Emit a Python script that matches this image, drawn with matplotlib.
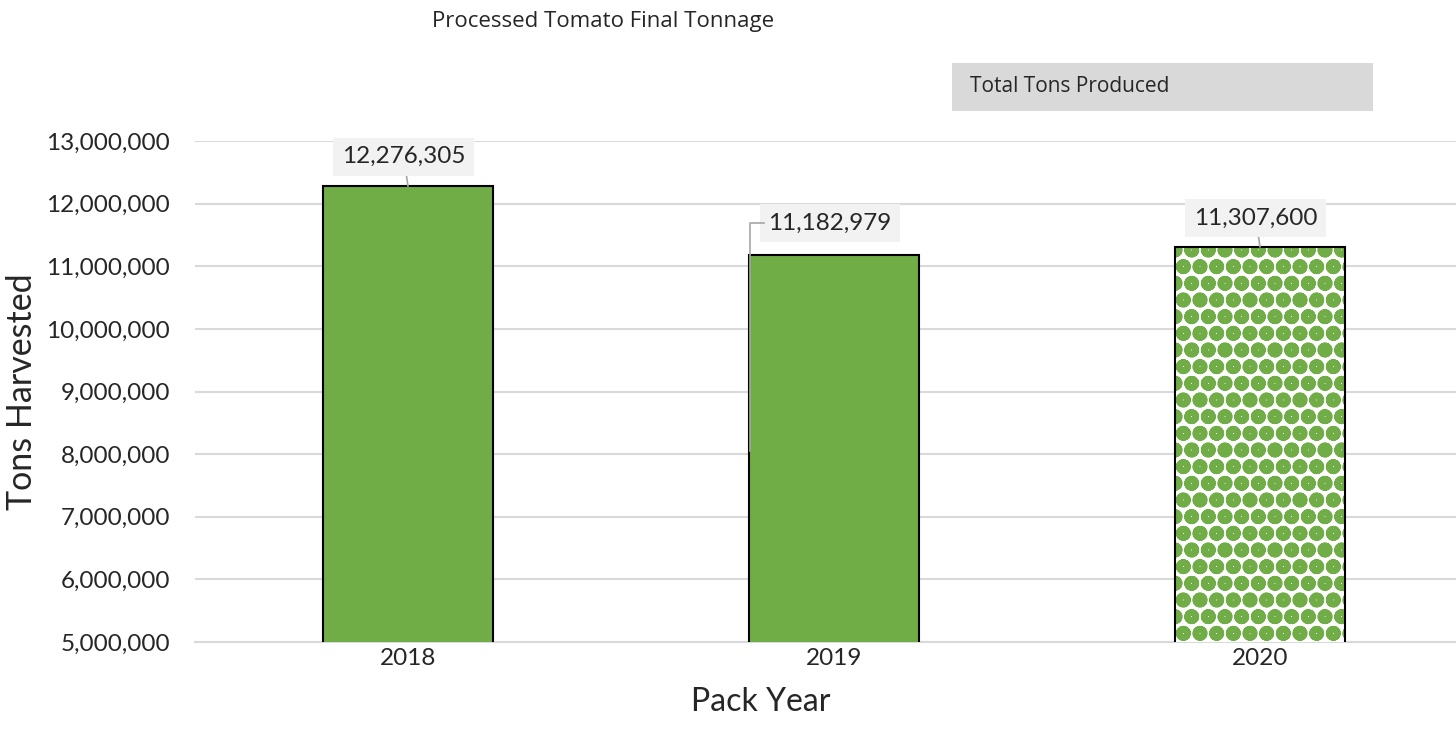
import numpy as np
import matplotlib.pyplot as plt
from matplotlib.ticker import FuncFormatter

plt.rcParams['font.family'] = ['Lato', 'DejaVu Sans']
plt.rcParams['hatch.linewidth'] = 6

years = ['2018', '2019', '2020']
tons = [12276305, 11182979, 11307600]
labels = ['12,276,305', '11,182,979', '11,307,600']

green = '#70AD47'
grid_c = '#D9D9D9'
txt_c = '#262626'

fig = plt.figure(figsize=(14.56, 7.44), dpi=100)
ax = fig.add_axes([195/1456, 1-642/744, 1-195/1456, (642-141)/744])

x = np.arange(len(years))
# solid bars for 2018/2019, patterned bar for 2020
ax.bar(x[:2], tons[:2], width=0.4, color=green, edgecolor='black',
       linewidth=1.5, zorder=3)
ax.bar(x[2], tons[2], width=0.4, color='white', edgecolor=green, hatch='o',
       linewidth=0, zorder=3)
ax.bar(x[2], tons[2], width=0.4, color='none', edgecolor='black',
       linewidth=1.5, zorder=4)

ax.set_ylim(5000000, 13000000)
ax.set_xlim(-0.5, 2.5 - 17/426)
ax.set_yticks(np.arange(5000000, 13000001, 1000000))
ax.yaxis.set_major_formatter(FuncFormatter(lambda v, p: f'{int(v):,}'))
ax.set_xticks(x)
ax.set_xticklabels(years)
ax.tick_params(axis='y', length=0, labelsize=17.5, colors=txt_c, pad=18)
ax.tick_params(axis='x', length=0, labelsize=17.5, colors=txt_c, pad=4)
ax.grid(axis='y', color=grid_c, linewidth=1.5, zorder=0)
for s in ['top', 'right', 'left']:
    ax.spines[s].set_visible(False)
ax.spines['bottom'].set_color(grid_c)
ax.spines['bottom'].set_linewidth(1.5)

box = dict(boxstyle='square,pad=0.35', fc='#F2F2F2', ec='none')
# data labels with leader lines
ax.annotate(labels[0], xy=(x[0], tons[0]), xytext=(x[0] - 0.01, 12750000),
            ha='center', va='center', fontsize=17.5, color=txt_c, bbox=box,
            arrowprops=dict(arrowstyle='-', color='#A6A6A6', lw=1.2,
                            shrinkA=0, shrinkB=0), zorder=5)
ax.annotate(labels[2], xy=(x[2], tons[2]), xytext=(x[2] - 0.01, 11770000),
            ha='center', va='center', fontsize=17.5, color=txt_c, bbox=box,
            arrowprops=dict(arrowstyle='-', color='#A6A6A6', lw=1.2,
                            shrinkA=0, shrinkB=0), zorder=5)
ax.text(x[1] - 0.01, 11690000, labels[1], ha='center', va='center',
        fontsize=17.5, color=txt_c, bbox=box, zorder=5)
ax.plot([x[1] - 0.165, x[1] - 0.197, x[1] - 0.197], [11690000, 11690000, 8050000],
        color='#A6A6A6', lw=1.2, zorder=5)

fig.text(603/1456, 1-22/744, 'Processed Tomato Final Tonnage', ha='center',
         va='center', fontsize=16, color=txt_c, family=['Open Sans', 'DejaVu Sans'])
fig.text(22/1456, 1-392/744, 'Tons Harvested', rotation=90, ha='center',
         va='center', fontsize=24.5, color=txt_c)
fig.text(761/1456, 1-702/744, 'Pack Year', ha='center', va='center',
         fontsize=23, color=txt_c)

# legend box
fig.patches.append(plt.Rectangle((952/1456, 1-111/744), 421/1456, 48/744,
                                 transform=fig.transFigure, fc='#D9D9D9', ec='none'))
fig.text(970/1456, 1-87/744, 'Total Tons Produced', ha='left', va='center',
         fontsize=15, color=txt_c, family=['Open Sans', 'DejaVu Sans'])

fig.savefig('out.png', dpi=100)
